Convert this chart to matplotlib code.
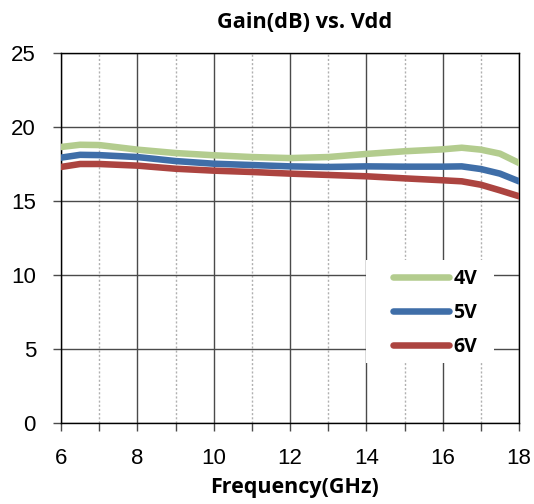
import matplotlib
matplotlib.use("Agg")
import matplotlib.pyplot as plt
from matplotlib.ticker import MultipleLocator
from matplotlib.patches import Rectangle

freq = [6, 6.5, 7, 8, 9, 10, 11, 12, 13, 14, 15, 16, 16.5, 17, 17.5, 18]
gain_4v = [18.65, 18.8, 18.78, 18.47, 18.24, 18.09, 17.97, 17.9, 17.97, 18.18, 18.36, 18.49, 18.6, 18.47, 18.2, 17.57]
gain_5v = [17.93, 18.12, 18.1, 17.97, 17.7, 17.52, 17.43, 17.34, 17.3, 17.34, 17.32, 17.32, 17.34, 17.16, 16.85, 16.33]
gain_6v = [17.3, 17.5, 17.5, 17.39, 17.18, 17.05, 16.96, 16.85, 16.76, 16.67, 16.53, 16.4, 16.33, 16.1, 15.72, 15.32]
labels = ["4V", "5V", "6V"]
colors = ["#B3CC8E", "#3F6EA8", "#AC4440"]

BOLD = {"family": "Open Sans", "weight": "bold"}

fig = plt.figure(figsize=(5.34, 5.04), dpi=100)
ax = fig.add_axes([61/534, 81/504, 458/534, 370/504])

for y, lab, c in zip([gain_4v, gain_5v, gain_6v], labels, colors):
    ax.plot(freq, y, color=c, lw=4.7, label=lab, solid_capstyle="round",
            solid_joinstyle="round", zorder=3)

ax.set_xlim(6, 18)
ax.set_ylim(0, 25)
ax.xaxis.set_major_locator(MultipleLocator(2))
ax.xaxis.set_minor_locator(MultipleLocator(1))
ax.yaxis.set_major_locator(MultipleLocator(5))
ax.grid(which="major", axis="both", color="#4a4a4a", lw=1.0, zorder=1)
ax.grid(which="minor", axis="x", color="#b0b0b0", lw=1.0, ls=(0, (1.5, 1.5)), zorder=1)
for s in ax.spines.values():
    s.set_color("black")
    s.set_linewidth(1.0)

ax.tick_params(axis="both", which="major", direction="out", length=6, width=1,
               labelsize=16, color="#4a4a4a")
ax.tick_params(axis="x", which="minor", direction="out", length=6, width=1, color="#4a4a4a")
for t in ax.get_xticklabels() + ax.get_yticklabels():
    t.set_fontfamily("Liberation Sans")
ax.tick_params(axis="y", pad=12)
ax.tick_params(axis="x", pad=12)

fig.text(305/534, 1 - 23/504, "Gain(dB) vs. Vdd", ha="center", va="center",
         fontsize=15.7, **BOLD)
fig.text(294/534, 1 - 488/504, "Frequency(GHz)", ha="center", va="center",
         fontsize=15.5, **BOLD)

# white legend background
ax.add_patch(Rectangle(((366-61)/458, (423-363)/370), 128/458, 103/370,
                       transform=ax.transAxes, facecolor="white", edgecolor="none",
                       zorder=4, clip_on=False))

leg = ax.legend(loc="upper left", bbox_to_anchor=((393-61)/458, (423-269)/370),
                frameon=False, handlelength=2.9, handletextpad=0.2, labelspacing=0.72,
                borderpad=0.0, borderaxespad=0.0,
                prop={"family": "Open Sans", "weight": "bold", "size": 14})
leg.set_zorder(5)

fig.savefig("out.png", dpi=100)
